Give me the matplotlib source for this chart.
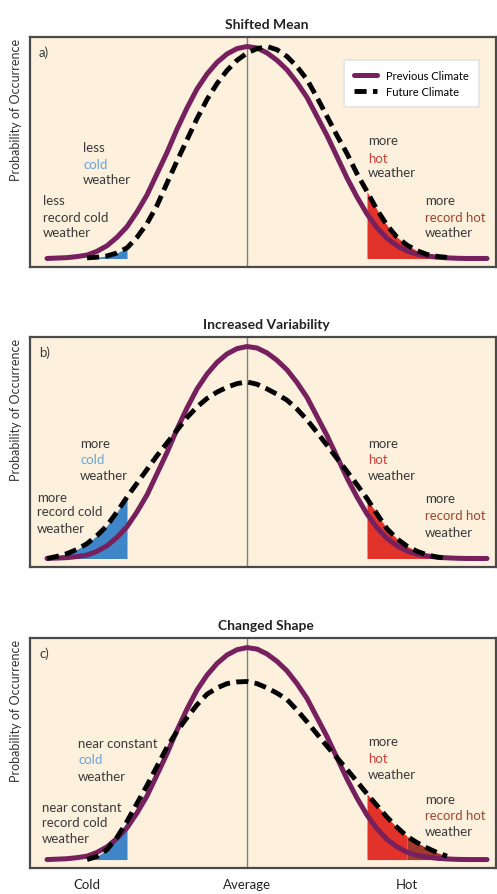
import matplotlib.pyplot as plt

plt.rcParams['font.family'] = ['Lato', 'DejaVu Sans']

# temperature axis (arbitrary units, 0 = average)
x_prev = [-10, -9.5, -9, -8.5, -8, -7.5, -7, -6.5, -6, -5.5, -5, -4.5, -4, -3.5, -3,
          -2.5, -2, -1.5, -1, -0.5, 0, 0.5, 1, 1.5, 2, 2.5, 3, 3.5, 4, 4.5, 5,
          5.5, 6, 6.5, 7, 7.5, 8, 8.5, 9, 9.5, 10, 10.5, 11, 11.5, 12]
prev = [0.0, 0.002, 0.004, 0.009, 0.016, 0.034, 0.06, 0.10, 0.15, 0.22, 0.30, 0.40,
        0.50, 0.61, 0.71, 0.80, 0.87, 0.925, 0.965, 0.99, 1.0, 0.993, 0.97, 0.935,
        0.89, 0.83, 0.76, 0.67, 0.58, 0.48, 0.38, 0.29, 0.21, 0.145, 0.095, 0.06,
        0.035, 0.02, 0.012, 0.006, 0.003, 0.001, 0.0, 0.0, 0.0]

# a) shifted mean
x_a = [-8, -7.5, -7, -6.5, -6, -5.5, -5, -4.5, -4, -3.5, -3, -2.5, -2, -1.5, -1,
       -0.5, 0, 0.5, 1, 1.5, 2, 2.5, 3, 3.5, 4, 4.5, 5, 5.5, 6, 6.5, 7, 7.5, 8,
       8.5, 9, 9.5, 10]
fut_a = [0.003, 0.006, 0.012, 0.026, 0.05, 0.10, 0.165, 0.25, 0.356, 0.46, 0.56,
         0.66, 0.75, 0.825, 0.887, 0.935, 0.969, 0.99, 1.0, 0.985, 0.953, 0.905,
         0.844, 0.76, 0.67, 0.58, 0.495, 0.40, 0.316, 0.23, 0.157, 0.10, 0.063,
         0.037, 0.019, 0.01, 0.005]

# b) increased variability
x_b = [-10, -9.5, -9, -8.5, -8, -7.5, -7, -6.5, -6, -5.5, -5, -4.5, -4, -3.5, -3,
       -2.5, -2, -1.5, -1, -0.5, 0, 0.5, 1, 1.5, 2, 2.5, 3, 3.5, 4, 4.5, 5, 5.5,
       6, 6.5, 7, 7.5, 8, 8.5, 9, 9.5, 10]
fut_b = [0.0, 0.01, 0.023, 0.043, 0.07, 0.108, 0.155, 0.22, 0.29, 0.355, 0.42,
         0.485, 0.545, 0.605, 0.665, 0.715, 0.755, 0.785, 0.808, 0.825, 0.833,
         0.822, 0.80, 0.775, 0.747, 0.705, 0.654, 0.595, 0.534, 0.472, 0.411,
         0.348, 0.283, 0.21, 0.14, 0.093, 0.058, 0.034, 0.017, 0.007, 0.0]

# c) changed shape
x_c = [-8, -7.5, -7, -6.5, -6, -5.5, -5, -4.5, -4, -3.5, -3, -2.5, -2, -1.5, -1,
       -0.5, 0, 0.5, 1, 1.5, 2, 2.5, 3, 3.5, 4, 4.5, 5, 5.5, 6, 6.5, 7, 7.5, 8,
       8.5, 9, 9.5, 10]
fut_c = [0.0, 0.015, 0.047, 0.105, 0.18, 0.265, 0.35, 0.44, 0.53, 0.605, 0.67,
         0.73, 0.78, 0.81, 0.83, 0.838, 0.84, 0.83, 0.81, 0.785, 0.755, 0.705,
         0.65, 0.592, 0.535, 0.48, 0.425, 0.368, 0.31, 0.255, 0.20, 0.152, 0.11,
         0.08, 0.055, 0.033, 0.016]

titles = ["Shifted Mean", "Increased Variability", "Changed Shape"]
letters = ["a)", "b)", "c)"]
cold_words = ["less", "more", "near constant"]
hot_words = ["more", "more", "more"]
tick_pos = [-8, 0, 8]
tick_labels = ["Cold", "Average", "Hot"]

cold_lim = -6
hot_lim = 6
record_hot_lim = 8

purple = '#76205e'
bg = '#fdf0dd'
txt = '#3a3a3a'
blue = '#3f86c8'
red = '#e2332a'

fig = plt.figure(figsize=(4.97, 8.95), dpi=100)
bottoms = [0.7006, 0.3654, 0.029]
futures = [(x_a, fut_a), (x_b, fut_b), (x_c, fut_c)]

# text y positions (data units) for each panel: cold upper, cold lower, hot upper, hot lower
text_y = [
    ([0.528, 0.448, 0.373], [0.274, 0.198, 0.123], [0.557, 0.476, 0.406], [0.274, 0.198, 0.123]),
    ([0.547, 0.467, 0.396], [0.292, 0.222, 0.146], [0.547, 0.467, 0.396], [0.283, 0.203, 0.127]),
    ([0.552, 0.476, 0.396], [0.25, 0.175, 0.104], [0.557, 0.481, 0.406], [0.288, 0.208, 0.137]),
]
text_x = [(-8.2, -10.2), (-8.35, -10.5), (-8.45, -10.25)]


def tail(xs, ys, lo, hi):
    pts = [(a, b) for a, b in zip(xs, ys) if lo <= a <= hi]
    return [p[0] for p in pts], [p[1] for p in pts]


for i in range(3):
    ax = fig.add_axes([0.0604, bottoms[i], 0.9376, 0.2565])
    ax.set_facecolor(bg)
    xf, yf = futures[i]

    # shaded tails under the future curve
    tx, ty = tail(xf, yf, -99, cold_lim)
    ax.fill_between(tx, ty, 0, color=blue, lw=0, zorder=1)
    if i == 2:
        tx, ty = tail(xf, yf, hot_lim, record_hot_lim)
        ax.fill_between(tx, ty, 0, color=red, lw=0, zorder=1)
        tx, ty = tail(xf, yf, record_hot_lim, 99)
        ax.fill_between(tx, ty, 0, color='#a3392c', lw=0, zorder=1)
    else:
        tx, ty = tail(xf, yf, hot_lim, 99)
        ax.fill_between(tx, ty, 0, color=red, lw=0, zorder=1)

    ax.axvline(0, color='#808080', lw=1, zorder=2)
    ax.plot(x_prev, prev, color=purple, lw=3.6, solid_capstyle='round', zorder=3,
            label='Previous Climate')
    ax.plot(xf, yf, color='black', lw=3.5, linestyle=(0, (2.5, 1.3)), zorder=4,
            label='Future Climate')

    ax.set_xlim(-10.85, 12.45)
    ax.set_ylim(-0.04, 1.043)
    ax.set_yticks([])
    if i == 2:
        ax.set_xticks(tick_pos)
        ax.set_xticklabels(tick_labels, fontsize=9.5, color='#222222')
        ax.tick_params(axis='x', length=0, pad=7)
    else:
        ax.set_xticks([])
    for s in ax.spines.values():
        s.set_color('#4a4a4a')
        s.set_linewidth(1.6)

    ax.set_title(titles[i], fontsize=10, fontweight='bold', color='#222222', pad=7, x=0.507)
    ax.set_ylabel("Probability of Occurrence", fontsize=9, color='#333333', loc='top', labelpad=6)
    ax.text(-10.4, 0.976, letters[i], fontsize=9.5, color=txt, va='center', ha='left')

    cu, cl, hu, hl = text_y[i]
    xu, xl = text_x[i]
    fs = 9.5
    ax.text(xu, cu[0], cold_words[i], fontsize=fs, color=txt, va='center')
    ax.text(xu, cu[1], "cold", fontsize=fs, color='#6aa3d8', va='center')
    ax.text(xu, cu[2], "weather", fontsize=fs, color=txt, va='center')
    ax.text(xl, cl[0], cold_words[i], fontsize=fs, color=txt, va='center')
    ax.text(xl, cl[1], "record cold", fontsize=fs, color=txt, va='center')
    ax.text(xl, cl[2], "weather", fontsize=fs, color=txt, va='center')
    ax.text(6.05, hu[0], hot_words[i], fontsize=fs, color=txt, va='center')
    ax.text(6.05, hu[1], "hot", fontsize=fs, color='#c8433a', va='center')
    ax.text(6.05, hu[2], "weather", fontsize=fs, color=txt, va='center')
    ax.text(8.9, hl[0], hot_words[i], fontsize=fs, color=txt, va='center')
    ax.text(8.9, hl[1], "record hot", fontsize=fs, color='#a0452f', va='center')
    ax.text(8.9, hl[2], "weather", fontsize=fs, color=txt, va='center')

    if i == 0:
        leg = ax.legend(loc='upper right', bbox_to_anchor=(0.975, 0.925), fontsize=8,
                        frameon=True, fancybox=False, framealpha=1, edgecolor='#e6e6e6',
                        handlelength=2.1, borderpad=0.9, labelspacing=0.45, shadow=False)
        leg.get_frame().set_linewidth(1.5)

fig.savefig('out.png', dpi=100)
